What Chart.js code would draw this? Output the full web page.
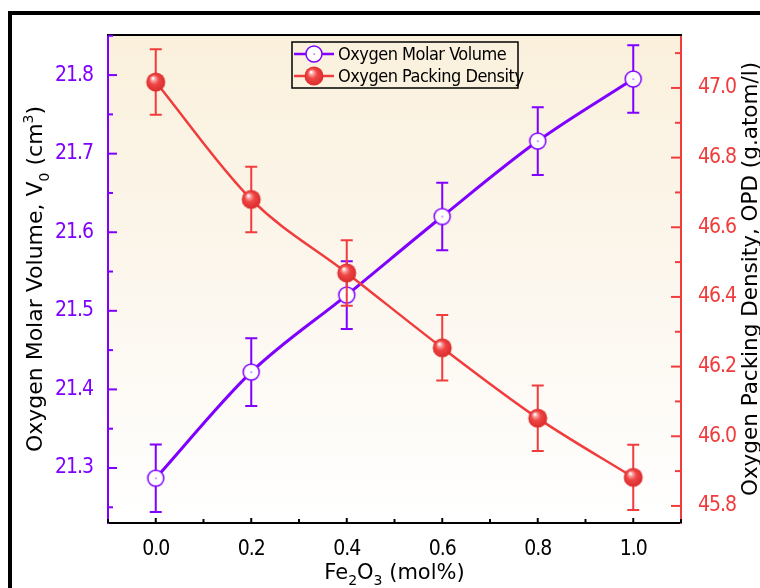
<!DOCTYPE html>
<html>
<head>
<meta charset="utf-8">
<script src="https://cdn.jsdelivr.net/npm/chart.js@4/dist/chart.umd.min.js"></script>
<style>
  html,body{margin:0;padding:0;background:#fff}
  #wrap{width:760px;height:588px;position:relative}
</style>
</head>
<body>
<div id="wrap"><canvas id="c" width="760" height="588"></canvas></div>
<script>
// ── data ─────────────────────────────────────────
const fe2o3 = [0.0, 0.2, 0.4, 0.6, 0.8, 1.0];
const molarVolume    = [21.287, 21.422, 21.520, 21.620, 21.716, 21.795];
const molarVolumeErr = [0.043, 0.043, 0.043, 0.043, 0.043, 0.043];
const packingDensity    = [47.017, 46.680, 46.469, 46.254, 46.052, 45.882];
const packingDensityErr = [0.094, 0.094, 0.094, 0.094, 0.094, 0.094];

const xTicks  = [0.0, 0.2, 0.4, 0.6, 0.8, 1.0];
const yLTicks = [21.3, 21.4, 21.5, 21.6, 21.7, 21.8];
const yRTicks = [45.8, 46.0, 46.2, 46.4, 46.6, 46.8, 47.0];

const PURPLE = '#7f00ff', RED = '#f03c3c';
const FONT  = '"DejaVu Sans", Verdana, sans-serif';
const FONTC = '"DejaVu Sans Condensed", "DejaVu Sans", sans-serif';

// ── point symbols ────────────────────────────────
function openCircle(){
  const c=document.createElement('canvas');c.width=20;c.height=20;
  const g=c.getContext('2d');
  g.beginPath();g.arc(10,10,8,0,Math.PI*2);
  g.fillStyle='#fff';g.fill();
  g.lineWidth=1.5;g.strokeStyle=PURPLE;g.stroke();
  g.fillStyle=PURPLE;g.fillRect(9.5,9.5,1.2,1.2);
  return c;
}
function ball(){
  const c=document.createElement('canvas');c.width=22;c.height=22;
  const g=c.getContext('2d');
  const gr=g.createRadialGradient(8,7,0.5,11,11,10);
  gr.addColorStop(0,'#ffffff');
  gr.addColorStop(0.18,'#f8a0a0');
  gr.addColorStop(0.45,'#f04646');
  gr.addColorStop(1,'#d82a2a');
  g.beginPath();g.arc(11,11,9.5,0,Math.PI*2);
  g.fillStyle=gr;g.fill();
  return c;
}
const symV=openCircle(), symD=ball();

// ── helpers ──────────────────────────────────────
// draws text runs with sub/superscripts, centred on (x,y), optionally rotated
function richText(ctx,parts,x,y,size,rot){
  ctx.save();
  ctx.translate(x,y);if(rot)ctx.rotate(rot);
  ctx.fillStyle='#000';ctx.textBaseline='alphabetic';ctx.textAlign='left';
  ctx.letterSpacing='0px';
  let w=0;
  parts.forEach(p=>{ctx.font=(p.s?Math.round(size*0.65):size)+'px '+FONT;p.w=ctx.measureText(p.t).width;w+=p.w;});
  let cx=-w/2;
  parts.forEach(p=>{
    ctx.font=(p.s?Math.round(size*0.65):size)+'px '+FONT;
    const dy=p.s==='sub'?size*0.3:p.s==='sup'?-size*0.42:0;
    ctx.fillText(p.t,cx,dy);cx+=p.w;
  });
  ctx.restore();
}

const bgPlugin={
  id:'bg',
  beforeDraw(chart){
    const {ctx,chartArea:a}=chart;
    ctx.save();
    ctx.fillStyle='#fff';ctx.fillRect(0,0,chart.width,chart.height);
    const gr=ctx.createLinearGradient(0,a.top,0,a.bottom);
    gr.addColorStop(0,'#faf0dc');gr.addColorStop(0.55,'#fcf7ef');gr.addColorStop(1,'#ffffff');
    ctx.fillStyle=gr;ctx.fillRect(a.left,a.top,a.right-a.left,a.bottom-a.top);
    // outer frame
    ctx.fillStyle='#000';
    ctx.fillRect(8,11,4,chart.height);
    ctx.fillRect(8,11,chart.width,4);
    ctx.restore();
    // tighter tracking for the tick labels
    ctx.letterSpacing='-1px';
  }
};

const errPlugin={
  id:'errbars',
  beforeDatasetDraw(chart,args){
    const ds=chart.data.datasets[args.index];
    if(!ds.err)return;
    const {ctx}=chart, xs=chart.scales.x, ys=chart.scales[ds.yAxisID];
    ctx.save();
    ctx.strokeStyle=ds.borderColor;ctx.lineWidth=2;
    ds.data.forEach((p,i)=>{
      const px=xs.getPixelForValue(p.x);
      const t=ys.getPixelForValue(p.y+ds.err[i]), b=ys.getPixelForValue(p.y-ds.err[i]);
      ctx.beginPath();
      ctx.moveTo(px,t);ctx.lineTo(px,b);
      ctx.moveTo(px-6,t);ctx.lineTo(px+6,t);
      ctx.moveTo(px-6,b);ctx.lineTo(px+6,b);
      ctx.stroke();
    });
    ctx.restore();
  }
};

const decoPlugin={
  id:'deco',
  afterDraw(chart){
    const {ctx,chartArea:a,scales}=chart;
    ctx.save();
    // top frame of plot
    ctx.fillStyle='#000';ctx.fillRect(a.left-1,a.top-1,a.right-a.left+2,2);

    // inward ticks
    function ticks(scale,vals,step,len,minorLen,color,side){
      ctx.strokeStyle=color;ctx.lineWidth=2;
      const all=[];
      vals.forEach(v=>all.push([v,len]));
      for(let v=vals[0]-step/2;v<=vals[vals.length-1]+step;v+=step){all.push([v,minorLen]);}
      all.forEach(([v,l])=>{
        if(v<scale.min-1e-9||v>scale.max+1e-9)return;
        const p=scale.getPixelForValue(v);
        ctx.beginPath();
        if(side==='left'){ctx.moveTo(a.left,p);ctx.lineTo(a.left+l,p);}
        else if(side==='right'){ctx.moveTo(a.right,p);ctx.lineTo(a.right-l,p);}
        else {ctx.moveTo(p,a.bottom);ctx.lineTo(p,a.bottom-l);}
        ctx.stroke();
      });
    }
    ticks(scales.yL,yLTicks,0.1,9,5,PURPLE,'left');
    ticks(scales.yR,yRTicks,0.2,10,6,RED,'right');
    ticks(scales.x,xTicks,0.2,5,4,'#000','bottom');

    // axis titles
    richText(ctx,[{t:'Oxygen Molar Volume, V'},{t:'0',s:'sub'},{t:' (cm'},{t:'3',s:'sup'},{t:')'}],
      42,(a.top+a.bottom)/2,22,-Math.PI/2);
    richText(ctx,[{t:'Oxygen Packing Density, OPD (g.atom/l)'}],
      757,(a.top+a.bottom)/2,21.5,-Math.PI/2);
    richText(ctx,[{t:'Fe'},{t:'2',s:'sub'},{t:'O'},{t:'3',s:'sub'},{t:' (mol%)'}],
      (a.left+a.right)/2,579,21,0);

    // legend
    const L={x:292,y:42,w:226,h:46};
    ctx.strokeStyle='#000';ctx.lineWidth=1.5;
    ctx.strokeRect(L.x,L.y,L.w,L.h);
    const rows=[[chart.data.datasets[0],symV,54],[chart.data.datasets[1],symD,76]];
    ctx.font='18px '+FONTC;ctx.letterSpacing='-0.5px';
    ctx.textBaseline='middle';ctx.fillStyle='#000';
    rows.forEach(([ds,img,y])=>{
      ctx.strokeStyle=ds.borderColor;ctx.lineWidth=2.5;
      ctx.beginPath();ctx.moveTo(L.x+2,y);ctx.lineTo(L.x+42,y);ctx.stroke();
      ctx.drawImage(img,L.x+22-img.width/2,y-img.height/2);
      ctx.fillText(ds.label,L.x+46,y+1);
    });
    ctx.restore();
  }
};

const tickFont={family:FONTC,size:21};

new Chart(document.getElementById('c'),{
  type:'line',
  data:{datasets:[
    {label:'Oxygen Molar Volume',yAxisID:'yL',order:1,
     data:fe2o3.map((x,i)=>({x,y:molarVolume[i]})),err:molarVolumeErr,
     borderColor:PURPLE,borderWidth:3,cubicInterpolationMode:'monotone',pointStyle:symV,pointRadius:8},
    {label:'Oxygen Packing Density',yAxisID:'yR',order:0,
     data:fe2o3.map((x,i)=>({x,y:packingDensity[i]})),err:packingDensityErr,
     borderColor:RED,borderWidth:2.5,cubicInterpolationMode:'monotone',pointStyle:symD,pointRadius:9}
  ]},
  options:{
    responsive:false,animation:false,
    layout:{padding:{top:35,left:0,right:0,bottom:0}},
    plugins:{legend:{display:false},tooltip:{enabled:false}},
    scales:{
      x:{type:'linear',min:-0.1,max:1.1,
        afterBuildTicks:s=>{s.ticks=xTicks.map(v=>({value:v}));},
        afterFit:s=>{s.height=65;},
        grid:{display:false},border:{color:'#000',width:2},
        ticks:{color:'#000',font:tickFont,padding:6,callback:v=>v.toFixed(1)}},
      yL:{type:'linear',position:'left',min:21.23,max:21.851,
        afterBuildTicks:s=>{s.ticks=yLTicks.map(v=>({value:v}));},
        afterFit:s=>{s.width=108;},
        grid:{display:false},border:{color:PURPLE,width:2},
        ticks:{color:PURPLE,font:tickFont,padding:7,callback:v=>v.toFixed(1)}},
      yR:{type:'linear',position:'right',min:45.751,max:47.152,
        afterBuildTicks:s=>{s.ticks=yRTicks.map(v=>({value:v}));},
        afterFit:s=>{s.width=79;},
        grid:{display:false},border:{color:RED,width:2},
        ticks:{color:RED,font:tickFont,padding:9,callback:v=>v.toFixed(1)}}
    }
  },
  plugins:[bgPlugin,errPlugin,decoPlugin]
});
</script>
</body>
</html>
